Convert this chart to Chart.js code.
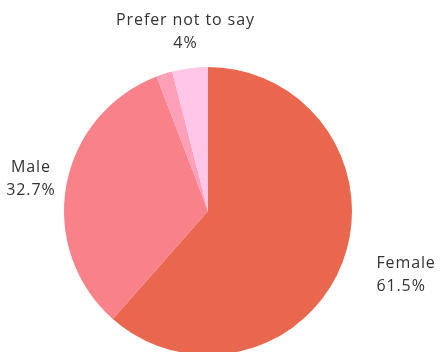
<!DOCTYPE html>
<html>
<head>
<meta charset="utf-8">
<script src="https://cdn.jsdelivr.net/npm/chart.js@4"></script>
<style>
  html, body { margin: 0; padding: 0; background: #fff; overflow: hidden; }
  #wrap { width: 441px; height: 352px; overflow: hidden; }
</style>
</head>
<body>
<div id="wrap"><canvas id="genderChart" width="441" height="360"></canvas></div>
<script>
// Respondents by gender (percent)
const genderLabels = ['Female', 'Male', 'Other', 'Prefer not to say'];
const genderShares = [61.5, 32.7, 1.8, 4];
const sliceColors = ['#E8674E', '#F9828A', '#FF9FB8', '#FFC6E8'];

// Draws "Name / value%" outside each slice (tiny slices are skipped)
const outsideLabels = {
    id: 'outsideLabels',
    afterDatasetsDraw(chart) {
        const ctx = chart.ctx;
        const meta = chart.getDatasetMeta(0);
        ctx.save();
        ctx.font = '16px "Open Sans", sans-serif';
        ctx.letterSpacing = '0.9px';
        ctx.fillStyle = '#333333';
        ctx.textBaseline = 'middle';
        meta.data.forEach((arc, i) => {
            const value = genderShares[i];
            if (value < 2) return;
            const { x, y, startAngle, endAngle, outerRadius } = arc.getProps(['x', 'y', 'startAngle', 'endAngle', 'outerRadius'], true);
            const mid = (startAngle + endAngle) / 2;
            const dist = outerRadius + 36;
            const lx = x + Math.cos(mid) * dist;
            const ly = y + Math.sin(mid) * dist;
            ctx.textAlign = (lx - x) > outerRadius ? 'left' : 'center';
            ctx.fillText(genderLabels[i], lx, ly - 11.5);
            ctx.fillText(value + '%', lx, ly + 11.5);
        });
        ctx.restore();
    }
};

const ctx = document.getElementById('genderChart').getContext('2d');
const genderChart = new Chart(ctx, {
    type: 'pie',
    data: {
        labels: genderLabels,
        datasets: [{
            data: genderShares,
            backgroundColor: sliceColors,
            borderWidth: 0
        }]
    },
    options: {
        responsive: false,
        devicePixelRatio: 1,
        animation: false,
        layout: {
            padding: { top: 67, bottom: 5, left: 64, right: 89 }
        },
        plugins: {
            legend: { display: false },
            tooltip: { enabled: false }
        }
    },
    plugins: [outsideLabels]
});
</script>
</body>
</html>
